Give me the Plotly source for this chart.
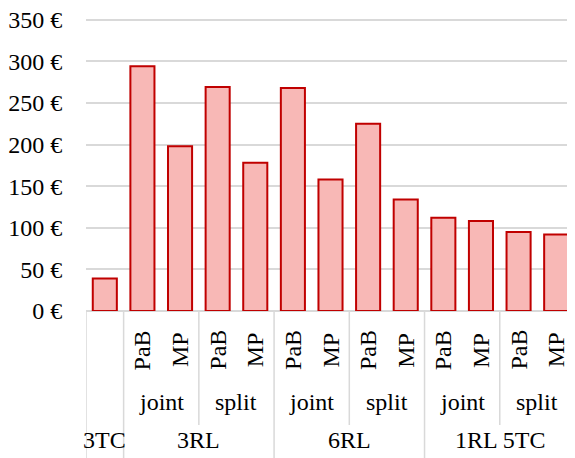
import plotly.graph_objects as go

# ---- data ----
groups = ["3TC", "3RL", "3RL", "3RL", "3RL", "6RL", "6RL", "6RL", "6RL",
          "1RL 5TC", "1RL 5TC", "1RL 5TC", "1RL 5TC"]
subgroups = ["", "joint", "joint", "split", "split", "joint", "joint", "split", "split",
             "joint", "joint", "split", "split"]
items = ["", "PaB", "MP", "PaB", "MP", "PaB", "MP", "PaB", "MP",
         "PaB", "MP", "PaB", "MP"]
values = [39, 294, 198, 269, 178, 268, 158, 225, 134, 112, 108, 95, 92]
y_ticks = [0, 50, 100, 150, 200, 250, 300, 350]
y_tick_labels = [f"{v} €" for v in y_ticks]

FONT = "Liberation Serif"
FS = 24
GRID = "#d9d9d9"
n = len(values)
xs = list(range(n))

fig = go.Figure()
fig.add_trace(go.Bar(
    x=xs, y=values, width=0.64,
    marker=dict(color="#f8b8b6", line=dict(color="#c00000", width=2)),
    hoverinfo="y",
))

annotations = []
shapes = []
PLOT_H = 293.0

# level 1 labels (rotated)
for i, t in enumerate(items):
    if t:
        annotations.append(dict(x=i, y=0, xref="x", yref="paper", text=t,
                                textangle=-90, showarrow=False, yshift=-39,
                                yanchor="middle", xanchor="center",
                                font=dict(family=FONT, size=FS, color="#000")))

# helper: runs of consecutive equal keys
def runs(keys):
    out = []
    start = 0
    for i in range(1, len(keys) + 1):
        if i == len(keys) or keys[i] != keys[start]:
            out.append((start, i - 1, keys[start]))
            start = i
    return out

# level 2 labels
sub_keys = [(g, s) for g, s in zip(groups, subgroups)]
for a, b, (g, s) in runs(sub_keys):
    if s:
        annotations.append(dict(x=(a + b) / 2, y=0, xref="x", yref="paper", text=s,
                                showarrow=False, yshift=-91, yanchor="middle",
                                font=dict(family=FONT, size=FS, color="#000")))

# level 3 labels
for a, b, g in runs(groups):
    annotations.append(dict(x=(a + b) / 2, y=0, xref="x", yref="paper", text=g,
                            showarrow=False, yshift=-129, yanchor="middle",
                            font=dict(family=FONT, size=FS, color="#000")))

# dividers
full_len = -147 / PLOT_H
short_len = -114 / PLOT_H
for i in range(n + 1):
    if i == 0 or i == n or groups[i] != groups[i - 1]:
        y1 = full_len
    elif subgroups[i] != subgroups[i - 1]:
        y1 = short_len
    else:
        continue
    shapes.append(dict(type="line", xref="x", yref="paper", x0=i - 0.5, x1=i - 0.5,
                       y0=0, y1=y1, line=dict(color=GRID, width=1.5)))

# page body has an 8px default margin, so the figure is sized to end at the window edge
fig.update_layout(
    width=567, height=450,
    margin=dict(l=78, r=0, t=10, b=147, autoexpand=False),
    plot_bgcolor="white", paper_bgcolor="white",
    showlegend=False,
    font=dict(family=FONT, size=FS, color="#000"),
    xaxis=dict(range=[-0.5, n - 0.5], showticklabels=False, showgrid=False,
               zeroline=False, showline=False, ticks=""),
    yaxis=dict(range=[0, 352], tickmode="array", tickvals=y_ticks, ticktext=y_tick_labels,
               showgrid=True, gridcolor=GRID, gridwidth=1.5,
               zeroline=True, zerolinecolor=GRID, zerolinewidth=1.5,
               ticks="outside", ticklen=18, tickcolor="rgba(0,0,0,0)",
               ticklabeloverflow="allow",
               tickfont=dict(family=FONT, size=FS, color="#000")),
    annotations=annotations,
    shapes=shapes,
)

fig.write_html("out.html")
